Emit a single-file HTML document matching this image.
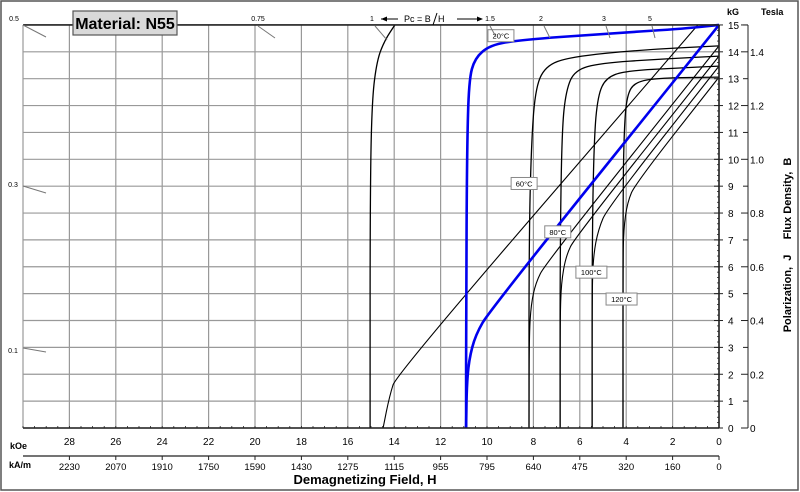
<!DOCTYPE html>
<html><head><meta charset="utf-8"><style>
html,body{margin:0;padding:0;background:#fff;}
svg{display:block;font-family:"Liberation Sans",sans-serif;}
</style></head><body>
<svg id="chart" width="800" height="492" viewBox="0 0 800 492">
<rect x="1" y="1" width="797" height="489" fill="#fff" stroke="#555" stroke-width="1.5"/>
<g id="grid"></g>
<g id="curves"></g>
<g id="axes"></g>
<g>
<rect x="73" y="11" width="104" height="24" fill="#d9d9d9" stroke="#555" stroke-width="1.2"/>
<text x="125" y="29" text-anchor="middle" font-size="16" font-weight="bold">Material: N55</text>
</g>
<g font-size="9">
<line x1="381" y1="19" x2="398" y2="19" stroke="#000"/><path d="M381,19 l6,-2.5 v5z" fill="#000"/>
<text x="404" y="22">Pc = B</text><line x1="433" y1="25" x2="437" y2="13" stroke="#000"/><text x="438" y="22">H</text>
<line x1="457" y1="19" x2="482" y2="19" stroke="#000"/><path d="M483,19 l-6,-2.5 v5z" fill="#000"/>
</g>
<text x="727" y="15" font-size="9" font-weight="bold">kG</text>
<text x="761" y="15" font-size="9" font-weight="bold">Tesla</text>
<text x="10" y="449" font-size="9" font-weight="bold">kOe</text>
<text x="9" y="468" font-size="9" font-weight="bold">kA/m</text>
<text x="365" y="484" text-anchor="middle" font-size="13" font-weight="bold">Demagnetizing Field, H</text>
<text transform="translate(791,245) rotate(-90)" text-anchor="middle" font-size="11" font-weight="bold" xml:space="preserve">Polarization,  J     Flux Density,  B</text>
</svg>
<script>
const NS="http://www.w3.org/2000/svg";
// data
const koeTicks=[28,26,24,22,20,18,16,14,12,10,8,6,4,2,0];
const kamLabels=["2230","2070","1910","1750","1590","1430","1275","1115","955","795","640","475","320","160","0"];
const kgTicks=[0,1,2,3,4,5,6,7,8,9,10,11,12,13,14,15];
const teslaLabels=["0","0.2","0.4","0.6","0.8","1.0","1.2","1.4"];
const pcLabels=["0.5","0.75","1","1.5","2","3","5"];
const pcLeftLabels=["0.3","0.1"];
const tempLabels=["20°C","60°C","80°C","100°C","120°C"];
const tempLabelAt=[[9.4,14.6],[8.4,9.1],[6.95,7.3],[5.5,5.8],[4.2,4.8]];
const jBase=[[15.04,0],[15.04,8.49],[14.96,12.2],[14.74,13.7],[14.4,14.44],[13.97,15]];
const bBase=[[14.48,0],[14.2,1.2],[13.9,2.0],[0.91,15]];
const j20=[[10.9,0],[10.9,4.76],[10.86,10.35],[10.78,12.95],[10.52,13.77],[9.87,14.25],[8.58,14.44],[5.13,14.66],[1.68,14.85],[0,15]];
const b20=[[10.9,0],[10.88,1.41],[10.78,2.53],[10.5,3.46],[9.87,4.39],[0,15]];
const j60=[[8.19,0],[8.19,6.62],[8.1,10.35],[7.93,12.58],[7.5,13.47],[6.42,13.81],[3.41,14.07],[0,14.22]];
const b60=[[8.19,0],[8.18,3.5],[8.1,4.6],[7.9,5.4],[7.5,6.1],[0,14.22]];
const j80=[[6.85,0],[6.85,6.62],[6.77,11.09],[6.59,12.58],[6.21,13.32],[5.13,13.58],[2.54,13.73],[0,13.84]];
const b80=[[6.85,0],[6.85,4],[6.8,5.4],[6.6,6.4],[6.2,7.1],[0,13.84]];
const j100=[[5.47,0],[5.47,6.62],[5.39,10.72],[5.22,12.39],[4.87,13.03],[4.05,13.29],[1.68,13.4],[0,13.47]];
const b100=[[5.47,0],[5.47,5],[5.42,6.4],[5.2,7.4],[4.8,8.2],[0,13.47]];
const j120=[[4.14,0],[4.14,8.49],[4.09,11.09],[3.97,12.39],[3.62,12.88],[2.54,13.03],[0,13.06]];
const b120=[[4.14,0],[4.14,6],[4.11,7.4],[3.95,8.4],[3.6,9.1],[0,13.06]];

const X0=719,PXH=23.2,Y0=428,PXB=26.87;
const xs=h=>X0-h*PXH, ys=b=>Y0-b*PXB;
const grid=document.getElementById('grid'),curves=document.getElementById('curves'),axes=document.getElementById('axes');
function mk(tag,attrs,parent){const e=document.createElementNS(NS,tag);for(const k in attrs)e.setAttribute(k,attrs[k]);parent.appendChild(e);return e;}
function txt(s,x,y,size,parent,anchor){const t=mk('text',{x:x,y:y,'font-size':size,'text-anchor':anchor||'start'},parent);t.textContent=s;return t;}
for(let h=0;h<=30;h+=2){const l=mk('line',{x1:xs(h),y1:ys(0),x2:xs(h),y2:ys(15),stroke:'#999','stroke-width':1.2},grid);

}
kgTicks.forEach(b=>{const l=mk('line',{x1:xs(30),y1:ys(b),x2:xs(0),y2:ys(b),stroke:'#999','stroke-width':1.2},grid);

});
mk('line',{x1:xs(30),y1:ys(15),x2:xs(0),y2:ys(15),stroke:'#222','stroke-width':1.6},axes);
mk('line',{x1:xs(30),y1:ys(0),x2:xs(0),y2:ys(0),stroke:'#222','stroke-width':1.6},axes);
mk('line',{x1:xs(0),y1:ys(0),x2:xs(0),y2:ys(15),stroke:'#222','stroke-width':1.6},axes);
for(let h=0;h<=30;h+=0.5){mk('line',{x1:xs(h),y1:ys(0),x2:xs(h),y2:ys(0)-2,stroke:'#222','stroke-width':0.8},axes);}
for(let b=0;b<=15;b+=0.2){mk('line',{x1:xs(0),y1:ys(b),x2:xs(0)-2,y2:ys(b),stroke:'#222','stroke-width':0.8},axes);}
kgTicks.forEach(b=>{mk('line',{x1:xs(0)-5,y1:ys(b),x2:xs(0)+4,y2:ys(b),stroke:'#222','stroke-width':1},axes);
const t=txt(String(b),728,ys(b)+4,10,axes);

});
koeTicks.forEach(h=>{const t=txt(String(h),xs(h),445,10,axes,'middle');

});
mk('line',{x1:xs(30),y1:456,x2:xs(0),y2:456,stroke:'#222','stroke-width':1.2},axes);
kamLabels.forEach((s,i)=>{const h=koeTicks[i];mk('line',{x1:xs(h),y1:456,x2:xs(h),y2:460,stroke:'#222'},axes);
const t=txt(s,xs(h),470,9.5,axes,'middle');

});
mk('line',{x1:748,y1:ys(15),x2:748,y2:ys(0),stroke:'#222','stroke-width':1},axes);
for(let b=1;b<=15;b+=2){mk('line',{x1:743,y1:ys(b),x2:748,y2:ys(b),stroke:'#222'},axes);}
teslaLabels.forEach((s,i)=>{const b=i*2;mk('line',{x1:741,y1:ys(b),x2:748,y2:ys(b),stroke:'#222'},axes);
const t=txt(s,750,ys(b)+4,10,axes);

});
mk('line',{x1:741,y1:ys(15),x2:748,y2:ys(15),stroke:'#222'},axes);
const pcPos=[[14,18,23,25,46,37],[258,18,258,26,275,38],[372,18,375,26,387,40],[490,18,490,26,496,37],[541,18,544,26,550,38],[604,18,606,26,610,38],[650,18,652,26,655,38]];
pcLabels.forEach((s,i)=>{const p=pcPos[i];const t=txt(s,p[0],p[1]+3,7,axes,'middle');


mk('line',{x1:p[2],y1:p[3],x2:p[4],y2:p[5],stroke:'#777','stroke-width':1},axes);});
[[187,23,186,46,193],[353,23,348,46,352]].forEach((p,i)=>{const t=txt(pcLeftLabels[i],13,p[0],7,axes,'middle');


mk('line',{x1:p[1],y1:p[2],x2:p[3],y2:p[4],stroke:'#777','stroke-width':1},axes);});
// corner-rounded path (no overshoot)
function pathD(pts){const P=pts.map(p=>[xs(p[0]),ys(p[1])]);let d='M'+P[0][0].toFixed(1)+','+P[0][1].toFixed(1);
for(let i=1;i<P.length-1;i++){const a=P[i-1],b=P[i],c=P[i+1];
const m1=[(a[0]+b[0])/2,(a[1]+b[1])/2],m2=[(b[0]+c[0])/2,(b[1]+c[1])/2];
d+=' L'+m1[0].toFixed(1)+','+m1[1].toFixed(1)+' Q'+b[0].toFixed(1)+','+b[1].toFixed(1)+' '+m2[0].toFixed(1)+','+m2[1].toFixed(1);}
const L=P[P.length-1];d+=' L'+L[0].toFixed(1)+','+L[1].toFixed(1);return d;}
const series=[[jBase,'#000',1.3,'j-curve-base'],[bBase,'#000',1.1,'b-curve-base'],[j60,'#000',1.3,'j-curve-60c'],[b60,'#000',1.1,'b-curve-60c'],[j80,'#000',1.3,'j-curve-80c'],[b80,'#000',1.1,'b-curve-80c'],[j100,'#000',1.3,'j-curve-100c'],[b100,'#000',1.1,'b-curve-100c'],[j120,'#000',1.3,'j-curve-120c'],[b120,'#000',1.1,'b-curve-120c'],[j20,'#0000ee',2.6,'j-curve-20c'],[b20,'#0000ee',2.6,'b-curve-20c']];
series.forEach(s=>{const p=mk('path',{d:pathD(s[0]),fill:'none',stroke:s[1],'stroke-width':s[2],'stroke-linejoin':'round'},curves);

});
tempLabels.forEach((s,i)=>{const cx=xs(tempLabelAt[i][0]),cy=ys(tempLabelAt[i][1]);const w=s.length*5+6;
const g=mk('g',{},curves);


mk('rect',{x:cx-w/2,y:cy-6,width:w,height:12,fill:'#fff',stroke:'#888','stroke-width':1},g);
txt(s,cx,cy+3,7.5,g,'middle');});
</script>
</body></html>
